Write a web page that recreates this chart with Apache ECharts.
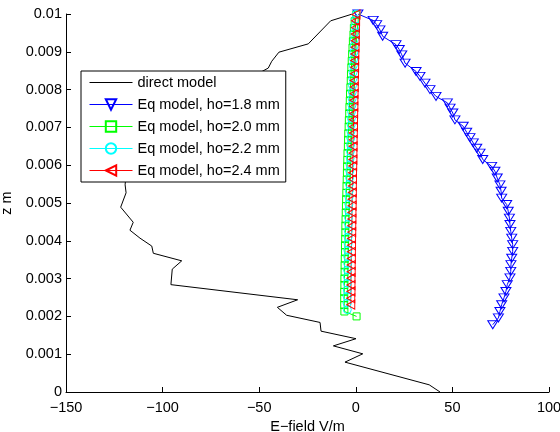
<!DOCTYPE html>
<html>
<head>
<meta charset="utf-8">
<script src="https://cdn.jsdelivr.net/npm/echarts@6/dist/echarts.min.js"></script>
<style>
html,body{margin:0;padding:0;background:#fff;}
#chart{width:560px;height:432px;}
</style>
</head>
<body>
<div id="chart"></div>
<script>
const seriesNames = ['direct model', 'Eq model, ho=1.8 mm', 'Eq model, ho=2.0 mm', 'Eq model, ho=2.2 mm', 'Eq model, ho=2.4 mm'];
const xTickLabels = ['\u2212150', '\u2212100', '\u221250', '0', '50', '100'];
const yTickLabels = ['0', '0.001', '0.002', '0.003', '0.004', '0.005', '0.006', '0.007', '0.008', '0.009', '0.01'];

const directX = [43.6, 38.0, -5.6, 3.6, -11.6, 0.1, -18.0, -18.5, -35.8, -40.6, -30.1, -95.7, -95.0, -90.1, -104.8, -105.6, -111.7, -116.9, -115.2, -121.7, -118.9, -119.4, -119.0, -112.0, -100.0, -85.0, -70.0, -55.0, -45.3, -43.5, -39.8, -24.6, -13.0, -3.0, -2.0];
const directZ = [0, 0.00019, 0.00079, 0.00101, 0.00122, 0.00141, 0.00161, 0.00184, 0.00203, 0.00224, 0.00244, 0.00284, 0.00325, 0.00347, 0.00367, 0.00386, 0.00407, 0.00428, 0.00449, 0.00489, 0.00527, 0.00548, 0.00572, 0.0062, 0.0068, 0.0074, 0.0079, 0.0083, 0.00857, 0.00875, 0.00899, 0.00921, 0.00982, 0.00998, 0.01];

const blueX = [1.1, 9.0, 10.8, 12.5, 13.9, 20.8, 22.5, 23.8, 25.5, 31.2, 33.2, 35.8, 38.4, 41.5, 47.4, 48.8, 50.2, 51.3, 55.6, 57.4, 59.1, 60.8, 62.6, 64.3, 65.7, 70.3, 72.0, 73.2, 74.6, 75.2, 75.5, 78.1, 78.9, 79.5, 79.8, 80.2, 80.7, 81.2, 81.2, 80.7, 80.3, 80.2, 79.8, 78.4, 77.7, 76.7, 75.5, 74.6, 73.8, 70.9];
const blueZ = [0.01, 0.00983, 0.00972, 0.00958, 0.00941, 0.00919, 0.00906, 0.00892, 0.00870, 0.00848, 0.00835, 0.00817, 0.00800, 0.00782, 0.00765, 0.00751, 0.00738, 0.00720, 0.00703, 0.00687, 0.00673, 0.00659, 0.00645, 0.00632, 0.00615, 0.00597, 0.00584, 0.00566, 0.00548, 0.00531, 0.00513, 0.00496, 0.00478, 0.00460, 0.00443, 0.00425, 0.00407, 0.00390, 0.00372, 0.00354, 0.00337, 0.00319, 0.00302, 0.00284, 0.00266, 0.00249, 0.00231, 0.00213, 0.00196, 0.00178];

const greenX = [0.4, -5.9, -6.0, -6.0, -6.0, -5.9, -5.9, -5.8, -5.8, -5.7, -5.6, -5.6, -5.5, -5.4, -5.4, -5.3, -5.2, -5.1, -5.0, -4.9, -4.8, -4.7, -4.6, -4.5, -4.4, -4.3, -4.1, -4.0, -3.9, -3.7, -3.6, -3.4, -3.3, -3.1, -3.0, -2.8, -2.6, -2.5, -2.3, -2.1, -1.9, -1.7, -1.5, -1.2, -1.0, -0.6, 0.2];
const greenZ = [0.00200, 0.00213, 0.00230, 0.00248, 0.00265, 0.00283, 0.00300, 0.00318, 0.00335, 0.00353, 0.00370, 0.00388, 0.00405, 0.00422, 0.00440, 0.00457, 0.00475, 0.00492, 0.00510, 0.00527, 0.00545, 0.00562, 0.00580, 0.00597, 0.00614, 0.00632, 0.00649, 0.00667, 0.00684, 0.00702, 0.00719, 0.00737, 0.00754, 0.00771, 0.00789, 0.00806, 0.00824, 0.00841, 0.00859, 0.00876, 0.00894, 0.00911, 0.00928, 0.00946, 0.00963, 0.00981, 0.00998];

const cyanX = [-4.4, -4.5, -4.5, -4.4, -4.4, -4.3, -4.3, -4.2, -4.2, -4.1, -4.0, -4.0, -3.9, -3.8, -3.8, -3.7, -3.6, -3.5, -3.4, -3.3, -3.2, -3.1, -3.0, -2.9, -2.8, -2.7, -2.6, -2.5, -2.4, -2.3, -2.2, -2.0, -1.9, -1.8, -1.7, -1.5, -1.4, -1.3, -1.1, -1.0, -0.8, -0.7, -0.5, -0.3, -0.1, 0.3];
const cyanZ = [0.00218, 0.00235, 0.00253, 0.00270, 0.00288, 0.00305, 0.00323, 0.00340, 0.00358, 0.00375, 0.00393, 0.00410, 0.00427, 0.00445, 0.00462, 0.00480, 0.00497, 0.00515, 0.00532, 0.00550, 0.00567, 0.00585, 0.00602, 0.00619, 0.00637, 0.00654, 0.00672, 0.00689, 0.00707, 0.00724, 0.00742, 0.00759, 0.00776, 0.00794, 0.00811, 0.00829, 0.00846, 0.00864, 0.00881, 0.00899, 0.00916, 0.00933, 0.00951, 0.00968, 0.00986, 0.01000];

const redX = [-2.6, -2.6, -2.5, -2.5, -2.5, -2.4, -2.4, -2.3, -2.3, -2.2, -2.2, -2.1, -2.1, -2.0, -2.0, -1.9, -1.9, -1.8, -1.8, -1.7, -1.7, -1.6, -1.5, -1.5, -1.4, -1.4, -1.3, -1.2, -1.2, -1.1, -1.0, -1.0, -0.9, -0.8, -0.8, -0.7, -0.6, -0.6, -0.5, -0.4, -0.3, -0.3, -0.2, -0.1, 0.1];
const redZ = [0.00231, 0.00248, 0.00266, 0.00283, 0.00301, 0.00318, 0.00336, 0.00353, 0.00371, 0.00388, 0.00406, 0.00423, 0.00440, 0.00458, 0.00475, 0.00493, 0.00510, 0.00528, 0.00545, 0.00563, 0.00580, 0.00598, 0.00615, 0.00632, 0.00650, 0.00667, 0.00685, 0.00702, 0.00720, 0.00737, 0.00755, 0.00772, 0.00789, 0.00807, 0.00824, 0.00842, 0.00859, 0.00877, 0.00894, 0.00912, 0.00929, 0.00947, 0.00964, 0.00982, 0.00999];

function pairs(xs, zs) { return xs.map((x, i) => [x, zs[i]]); }

const FONT = '"Liberation Sans", Arial, Helvetica, sans-serif';

function eqSeries(name, xs, zs, color, symbol, rotate, size) {
  return {
    name: name, type: 'line', data: pairs(xs, zs),
    symbol: symbol, symbolSize: size, symbolRotate: rotate,
    showSymbol: true, showAllSymbol: true,
    lineStyle: { color: color, width: 1 },
    itemStyle: { color: 'rgba(255,255,255,0)', borderColor: color, borderWidth: 1 },
    emphasis: { disabled: true },
    animation: false
  };
}

const chart = echarts.init(document.getElementById('chart'), null, { renderer: 'canvas' });
chart.setOption({
  animation: false,
  backgroundColor: '#fff',
  grid: { left: 66, right: 11, top: 14, bottom: 40, containLabel: false, outerBoundsMode: 'none' },
  legend: {
    left: 81, top: 71, orient: 'vertical',
    backgroundColor: '#fff', borderColor: '#000', borderWidth: 1,
    padding: [4, 6, 4, 8],
    itemWidth: 43, itemHeight: 13, itemGap: 7,
    lineStyle: { width: 1 },
    textStyle: { fontFamily: FONT, fontSize: 14.5, color: '#000' },
    data: [
      { name: seriesNames[0], itemStyle: { color: 'rgba(0,0,0,0)', borderWidth: 0, opacity: 0 } },
      seriesNames[1], seriesNames[2], seriesNames[3], seriesNames[4]
    ]
  },
  xAxis: {
    type: 'value', min: -150, max: 100, interval: 50,
    name: 'E\u2212field V/m', nameLocation: 'middle', nameGap: 25,
    nameTextStyle: { fontFamily: FONT, fontSize: 14.5, color: '#000' },
    axisLine: { show: true, onZero: false, lineStyle: { color: '#000', width: 1 } },
    axisTick: { show: true, inside: true, length: 5, lineStyle: { color: '#000' } },
    splitLine: { show: false },
    axisLabel: { margin: 8, fontFamily: FONT, fontSize: 14.5, color: '#000',
      formatter: v => xTickLabels[Math.round((v + 150) / 50)] }
  },
  yAxis: {
    type: 'value', min: 0, max: 0.01, interval: 0.001,
    name: 'z m', nameLocation: 'middle', nameGap: 40,
    nameTextStyle: { fontFamily: FONT, fontSize: 14.5, color: '#000' },
    axisLine: { show: true, onZero: false, lineStyle: { color: '#000', width: 1 } },
    axisTick: { show: true, inside: true, length: 5, lineStyle: { color: '#000' } },
    splitLine: { show: false },
    axisLabel: { margin: 4, fontFamily: FONT, fontSize: 14.5, color: '#000',
      formatter: v => yTickLabels[Math.round(v / 0.001)] }
  },
  series: [
    { name: seriesNames[0], type: 'line', data: pairs(directX, directZ), symbol: 'none',
      lineStyle: { color: '#000', width: 1 }, itemStyle: { color: '#000' }, emphasis: { disabled: true } },
    eqSeries(seriesNames[1], blueX, blueZ, '#0000ff', 'triangle', 180, [10, 8]),
    eqSeries(seriesNames[2], greenX, greenZ, '#00ff00', 'rect', 0, 7),
    eqSeries(seriesNames[3], cyanX, cyanZ, '#00ffff', 'circle', 0, 8),
    eqSeries(seriesNames[4], redX, redZ, '#ff0000', 'triangle', 90, [9, 8])
  ]
});
</script>
</body>
</html>
